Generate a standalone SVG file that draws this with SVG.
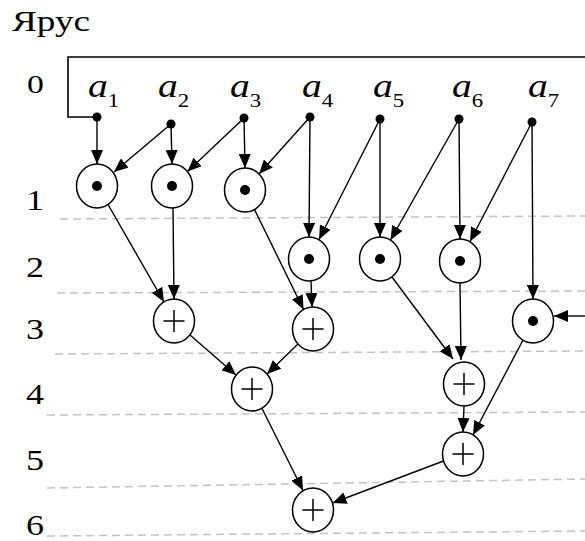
<svg xmlns="http://www.w3.org/2000/svg" width="585" height="541" viewBox="0 0 585 541">
<style>
  .t { font-family: "Liberation Serif", "Times New Roman", serif; fill: #000; }
  .tier { font-size: 30px; }
  .lab { font-size: 33px; }
  .lab .v { font-style: italic; }
  .lab .s { font-size: 19px; }
  .dash { stroke: #c4c4c4; stroke-width: 1.5; stroke-dasharray: 8 5; fill: none; }
  .edge { stroke: #000; stroke-width: 1.4; fill: none; marker-end: url(#ah); }
  .wire { stroke: #000; stroke-width: 1.6; fill: none; }
  .op { fill: #fff; stroke: #000; stroke-width: 1.5; }
  .pl { stroke: #000; stroke-width: 1.5; fill: none; }
  .dot { fill: #000; }
</style>
<defs>
  <marker id="ah" viewBox="0 0 14 12" markerWidth="14" markerHeight="12" refX="14" refY="6" orient="auto" markerUnits="userSpaceOnUse">
    <path d="M0,0 L14,6 L0,12 z" fill="#000"/>
  </marker>
</defs>
<rect width="585" height="541" fill="#fff"/>

<g id="tiers">
  <line class="dash" x1="60" y1="219" x2="585" y2="216"/>
  <line class="dash" x1="57" y1="293" x2="585" y2="291"/>
  <line class="dash" x1="55" y1="354" x2="585" y2="351"/>
  <line class="dash" x1="47" y1="415" x2="585" y2="412"/>
  <line class="dash" x1="47" y1="488" x2="585" y2="479"/>
  <line class="dash" x1="47" y1="536" x2="585" y2="531"/>
</g>

<g id="tier-labels">
  <text class="t" font-size="30" transform="translate(12,31) scale(1.24,1)">Ярус</text>
  <text class="t" font-size="25" transform="translate(27,93) scale(1.35,1)">0</text>
  <text class="t tier" transform="translate(26,210) scale(1.2,1)">1</text>
  <text class="t tier" transform="translate(26,277) scale(1.2,1)">2</text>
  <text class="t tier" transform="translate(26,339) scale(1.2,1)">3</text>
  <text class="t tier" transform="translate(26,404) scale(1.2,1)">4</text>
  <text class="t tier" transform="translate(26,470) scale(1.2,1)">5</text>
  <text class="t tier" transform="translate(26,535) scale(1.2,1)">6</text>
</g>

<g id="connectors">
  <polyline class="wire" points="585,57 68,57 68,117 97,117"/>
  <line class="edge" x1="585" y1="316" x2="554" y2="316"/>
  <line class="edge" x1="97" y1="117" x2="97" y2="164"/>
  <line class="edge" x1="171" y1="124" x2="114" y2="172"/>
  <line class="edge" x1="171" y1="124" x2="172" y2="164"/>
  <line class="edge" x1="244" y1="118" x2="187.5" y2="171.5"/>
  <line class="edge" x1="244" y1="118" x2="245" y2="168"/>
  <line class="edge" x1="310" y1="117" x2="259" y2="174"/>
  <line class="edge" x1="310" y1="117" x2="309" y2="237"/>
  <line class="edge" x1="380" y1="119" x2="319" y2="239.5"/>
  <line class="edge" x1="380" y1="119" x2="380" y2="237"/>
  <line class="edge" x1="459" y1="119" x2="390.5" y2="240"/>
  <line class="edge" x1="459" y1="119" x2="460" y2="239"/>
  <line class="edge" x1="532" y1="122" x2="470" y2="241.5"/>
  <line class="edge" x1="532" y1="122" x2="533" y2="299"/>
  <line class="edge" x1="108" y1="204.5" x2="164" y2="302"/>
  <line class="edge" x1="173" y1="208" x2="174" y2="299"/>
  <line class="edge" x1="254.5" y1="209.5" x2="303.5" y2="309.5"/>
  <line class="edge" x1="311" y1="281" x2="312" y2="307"/>
  <line class="edge" x1="392" y1="277" x2="453" y2="359"/>
  <line class="edge" x1="460" y1="283" x2="461" y2="360"/>
  <line class="edge" x1="190" y1="335" x2="236" y2="375"/>
  <line class="edge" x1="298" y1="344" x2="267" y2="374"/>
  <line class="edge" x1="523" y1="340" x2="473" y2="435"/>
  <line class="edge" x1="464" y1="406" x2="463" y2="432"/>
  <line class="edge" x1="262" y1="408.5" x2="303" y2="490.5"/>
  <line class="edge" x1="443.5" y1="461" x2="332.5" y2="503"/>
</g>

<g id="a1"><text class="t lab" transform="translate(88,97) scale(1.2,1)"><tspan class="v">a</tspan><tspan class="s" dy="10">1</tspan></text><circle class="dot" cx="97" cy="117" r="4.5"/></g>
<g id="a2"><text class="t lab" transform="translate(158,97) scale(1.2,1)"><tspan class="v">a</tspan><tspan class="s" dy="10">2</tspan></text><circle class="dot" cx="171" cy="124" r="4.5"/></g>
<g id="a3"><text class="t lab" transform="translate(230,97) scale(1.2,1)"><tspan class="v">a</tspan><tspan class="s" dy="10">3</tspan></text><circle class="dot" cx="244" cy="118" r="4.5"/></g>
<g id="a4"><text class="t lab" transform="translate(302,97) scale(1.2,1)"><tspan class="v">a</tspan><tspan class="s" dy="10">4</tspan></text><circle class="dot" cx="310" cy="117" r="4.5"/></g>
<g id="a5"><text class="t lab" transform="translate(373,97) scale(1.2,1)"><tspan class="v">a</tspan><tspan class="s" dy="10">5</tspan></text><circle class="dot" cx="380" cy="119" r="4.5"/></g>
<g id="a6"><text class="t lab" transform="translate(452,97) scale(1.2,1)"><tspan class="v">a</tspan><tspan class="s" dy="10">6</tspan></text><circle class="dot" cx="459" cy="119" r="4.5"/></g>
<g id="a7"><text class="t lab" transform="translate(528,97) scale(1.2,1)"><tspan class="v">a</tspan><tspan class="s" dy="10">7</tspan></text><circle class="dot" cx="532" cy="122" r="4.5"/></g>

<g id="m1-1"><ellipse class="op" cx="97" cy="186" rx="20.5" ry="22"/><circle class="dot" cx="97" cy="186" r="5"/></g>
<g id="m1-2"><ellipse class="op" cx="172" cy="186" rx="20.5" ry="22"/><circle class="dot" cx="172" cy="186" r="5"/></g>
<g id="m1-3"><ellipse class="op" cx="245" cy="190" rx="20.5" ry="22"/><circle class="dot" cx="245" cy="190" r="5"/></g>
<g id="m2-1"><ellipse class="op" cx="309" cy="259" rx="20.5" ry="22"/><circle class="dot" cx="309" cy="259" r="5"/></g>
<g id="m2-2"><ellipse class="op" cx="380" cy="259" rx="20.5" ry="22"/><circle class="dot" cx="380" cy="259" r="5"/></g>
<g id="m2-3"><ellipse class="op" cx="460" cy="261" rx="20.5" ry="22"/><circle class="dot" cx="460" cy="261" r="5"/></g>
<g id="m3-1"><ellipse class="op" cx="533" cy="321" rx="20.5" ry="22"/><circle class="dot" cx="533" cy="321" r="5"/></g>

<g id="s3-1"><ellipse class="op" cx="174" cy="321" rx="20.5" ry="22"/><path class="pl" d="M163.5,321 H184.5 M174,310 V332"/></g>
<g id="s3-2"><ellipse class="op" cx="313" cy="329" rx="20.5" ry="22"/><path class="pl" d="M302.5,329 H323.5 M313,318 V340"/></g>
<g id="s4-1"><ellipse class="op" cx="252" cy="389" rx="20.5" ry="22"/><path class="pl" d="M241.5,389 H262.5 M252,378 V400"/></g>
<g id="s4-2"><ellipse class="op" cx="464" cy="384" rx="20.5" ry="22"/><path class="pl" d="M453.5,384 H474.5 M464,373 V395"/></g>
<g id="s5-1"><ellipse class="op" cx="463" cy="454" rx="20.5" ry="22"/><path class="pl" d="M452.5,454 H473.5 M463,443 V465"/></g>
<g id="s6-1"><ellipse class="op" cx="313" cy="510" rx="20.5" ry="22"/><path class="pl" d="M302.5,510 H323.5 M313,499 V521"/></g>
</svg>
